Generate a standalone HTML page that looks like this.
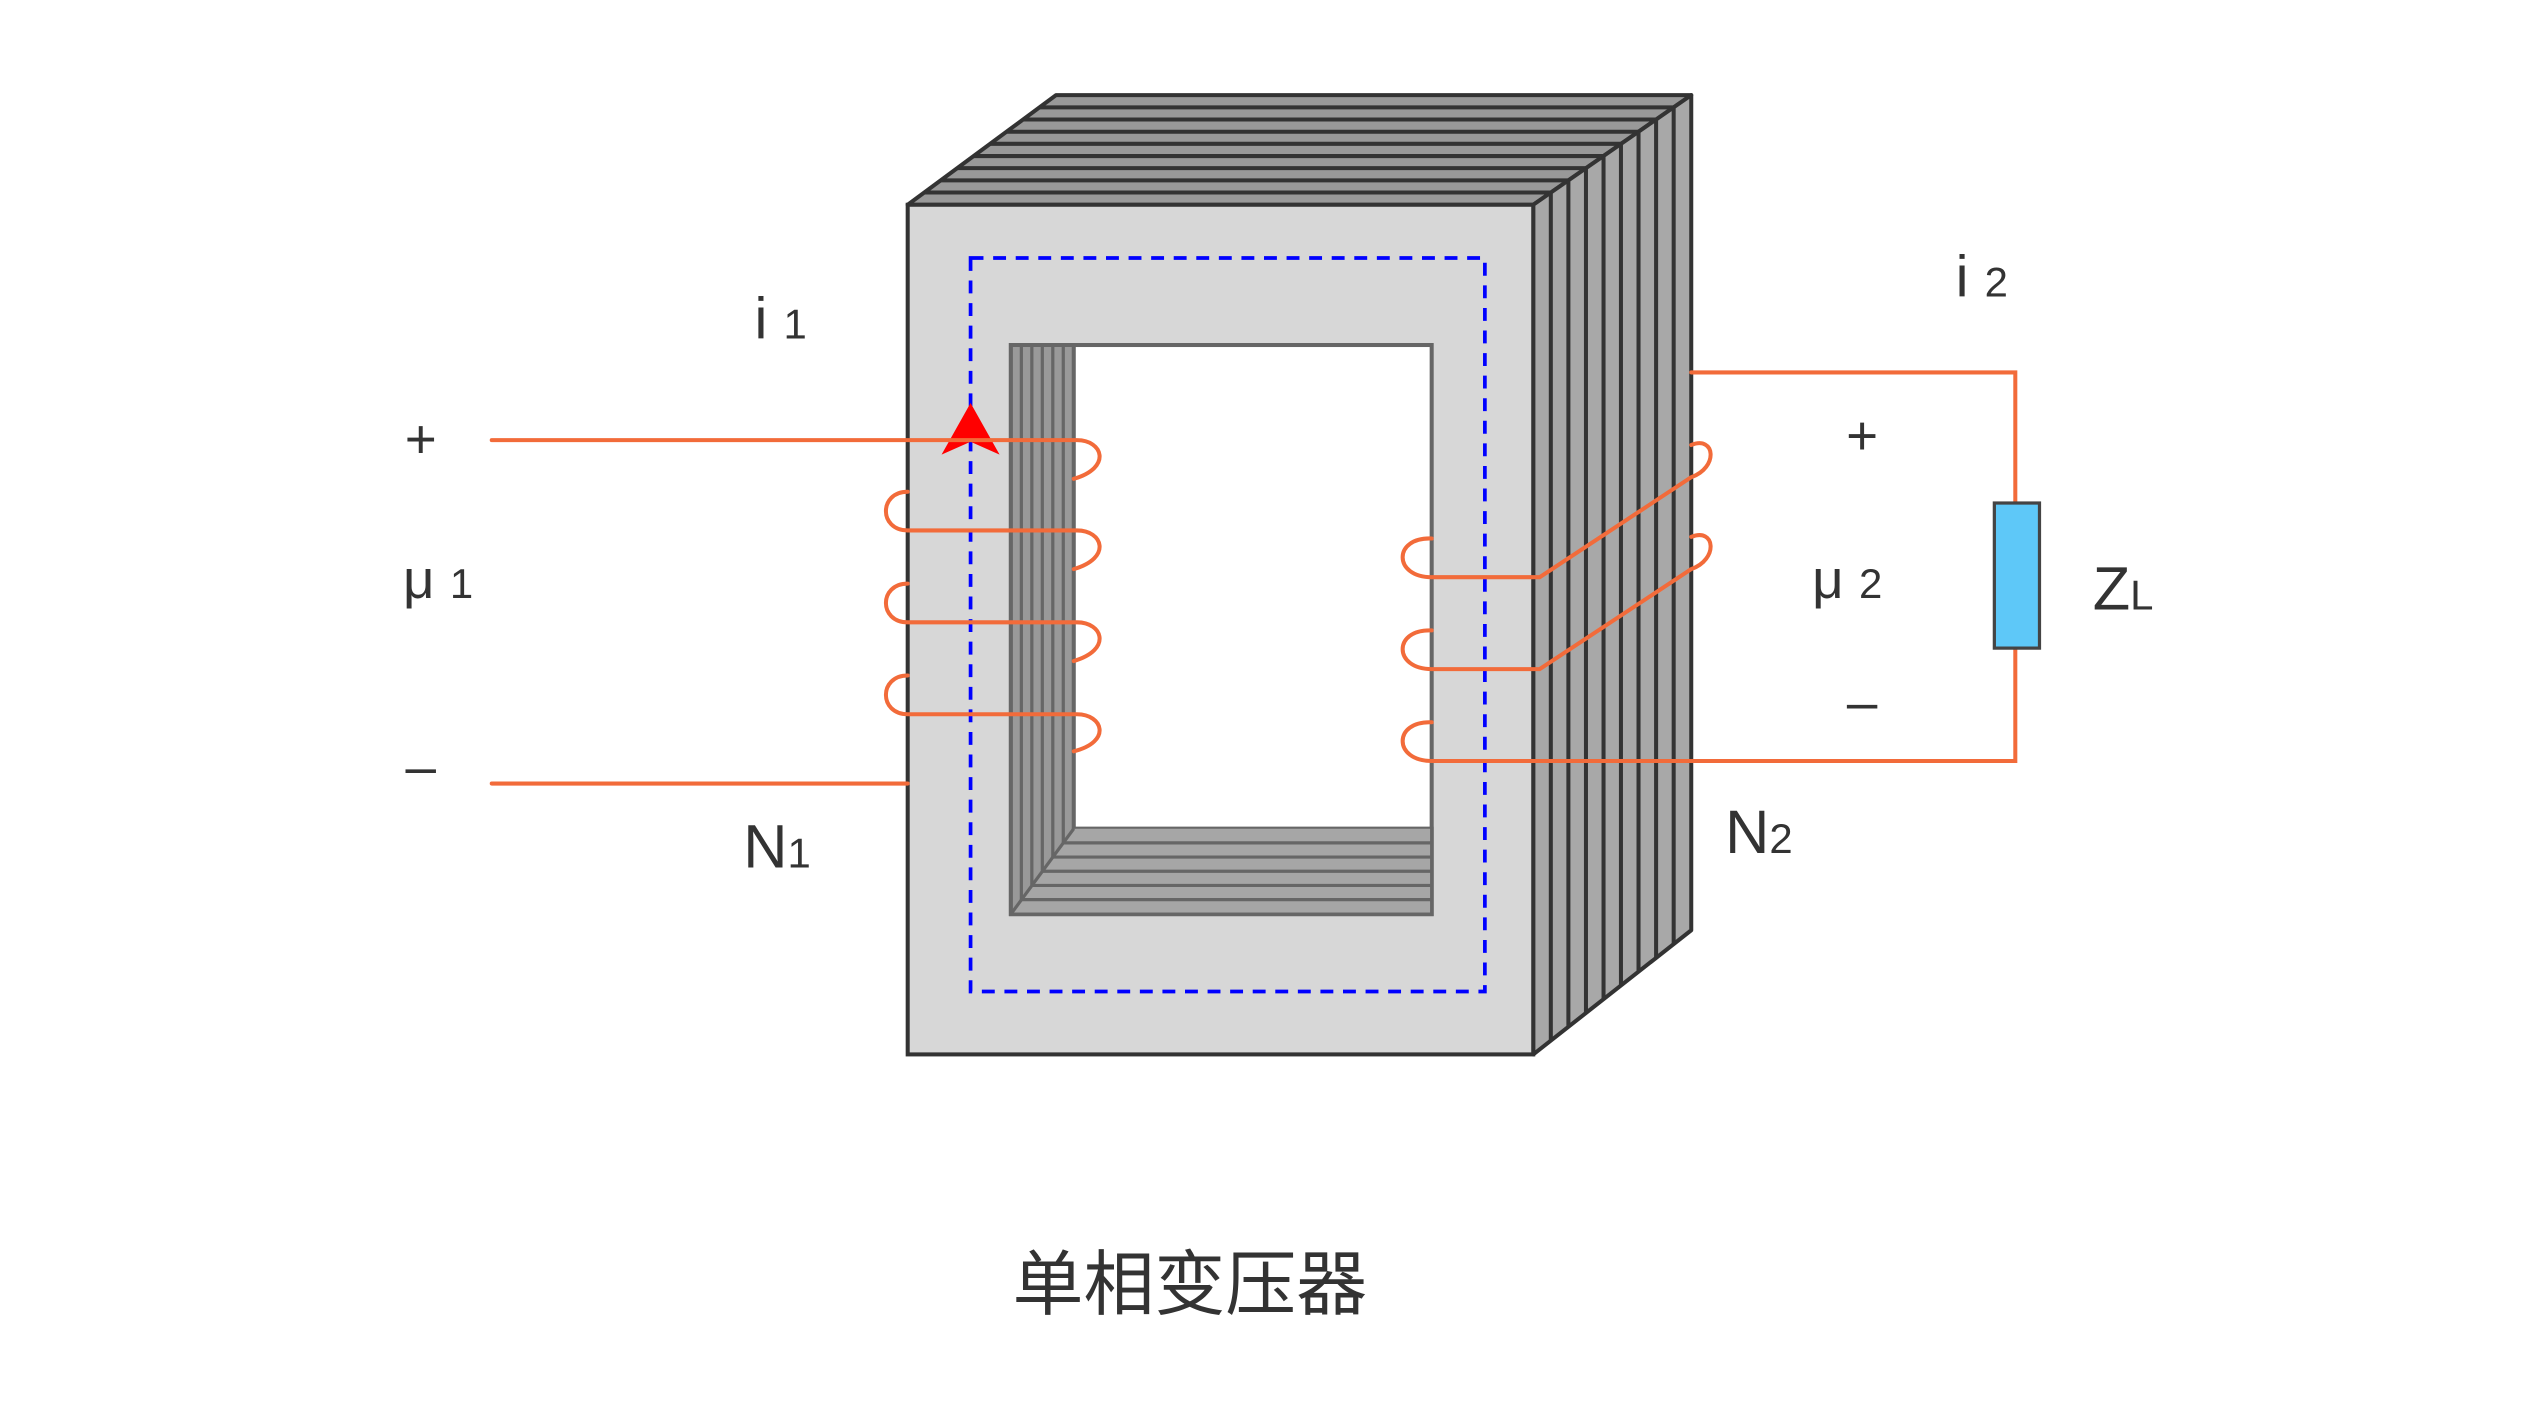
<!DOCTYPE html>
<html><head><meta charset="utf-8"><style>html,body{margin:0;padding:0;background:#fff}svg{display:block}</style></head>
<body>
<svg width="2528" height="1422" viewBox="0 0 1568 882" xmlns="http://www.w3.org/2000/svg">
<rect width="1568" height="882" fill="#fff"/>
<!-- top face -->
<polygon points="563,127 655,59 1049,59 951,127" fill="#999" stroke="#333" stroke-width="2.5" stroke-linejoin="round"/>
<!-- right face -->
<polygon points="951,127 1049,59 1049,577 951,654" fill="#a8a8a8" stroke="#333" stroke-width="2.5" stroke-linejoin="round"/>
<g stroke="#333" stroke-width="2.5" fill="none">
<line x1="573.2" y1="119.4" x2="961.9" y2="119.4"/>
<line x1="583.4" y1="111.9" x2="972.8" y2="111.9"/>
<line x1="593.7" y1="104.3" x2="983.7" y2="104.3"/>
<line x1="603.9" y1="96.8" x2="994.6" y2="96.8"/>
<line x1="614.1" y1="89.2" x2="1005.4" y2="89.2"/>
<line x1="624.3" y1="81.7" x2="1016.3" y2="81.7"/>
<line x1="634.6" y1="74.1" x2="1027.2" y2="74.1"/>
<line x1="644.8" y1="66.6" x2="1038.1" y2="66.6"/>
<line x1="961.9" y1="119.4" x2="961.9" y2="645.4"/>
<line x1="972.8" y1="111.9" x2="972.8" y2="636.9"/>
<line x1="983.7" y1="104.3" x2="983.7" y2="628.3"/>
<line x1="994.6" y1="96.8" x2="994.6" y2="619.8"/>
<line x1="1005.4" y1="89.2" x2="1005.4" y2="611.2"/>
<line x1="1016.3" y1="81.7" x2="1016.3" y2="602.7"/>
<line x1="1027.2" y1="74.1" x2="1027.2" y2="594.1"/>
<line x1="1038.1" y1="66.6" x2="1038.1" y2="585.6"/>
</g>
<!-- front face -->
<rect x="563" y="127" width="388" height="527" fill="#d7d7d7" stroke="#333" stroke-width="2.5"/>
<!-- window -->
<rect x="627" y="214" width="261" height="353" fill="#fff" stroke="#666" stroke-width="2.5"/>
<polygon points="627,214 666,214 666,514 888,514 888,567 627,567" fill="#999" stroke="#666" stroke-width="2.5"/>
<polygon points="666,514 888,514 888,567 627,567" fill="#a6a6a6"/>
<g stroke="#666" stroke-width="2" fill="none">
<line x1="633.5" y1="214" x2="633.5" y2="558"/>
<line x1="640" y1="214" x2="640" y2="549"/>
<line x1="646.5" y1="214" x2="646.5" y2="540"/>
<line x1="653" y1="214" x2="653" y2="532"/>
<line x1="659.5" y1="214" x2="659.5" y2="523"/>
<line x1="666" y1="214" x2="666" y2="514"/>
<line x1="666" y1="514" x2="627" y2="567"/>
<line x1="659.5" y1="522.8" x2="888" y2="522.8"/>
<line x1="653" y1="531.6" x2="888" y2="531.6"/>
<line x1="646.5" y1="540.4" x2="888" y2="540.4"/>
<line x1="640" y1="549.2" x2="888" y2="549.2"/>
<line x1="633.5" y1="558" x2="888" y2="558"/>
<rect x="627" y="214" width="261" height="353"/>
</g>
<!-- flux path -->
<rect x="602" y="160" width="319" height="455" fill="none" stroke="#00f" stroke-width="2.3" stroke-dasharray="8,6"/>
<polygon points="602,250 620,282 602,274 584,282" fill="#f00"/>
<!-- primary coil -->
<g stroke="#f26b3a" stroke-width="2.5" fill="none" stroke-linecap="round">
<path d="M305,273 H668 C684,273 690,290 666,297"/>
<path d="M563,305 C545,305 545,329 563,329 H668 C684,329 690,346 666,353"/>
<path d="M563,362 C545,362 545,386 563,386 H668 C684,386 690,403 666,410"/>
<path d="M563,419 C545,419 545,443 563,443 H668 C684,443 690,460 666,466"/>
<path d="M305,486 H563"/>
<!-- secondary -->
<path d="M888,334 C864,333 864,358 888,358 H955 L1049,296 C1066,290 1064,270 1049,276"/>
<path d="M888,391 C864,390 864,415 888,415 H955 L1049,353 C1066,347 1064,327 1049,333"/>
<path d="M888,448 C864,447 864,472 888,472 H1250 V402"/>
<path d="M1049,231 H1250 V312"/>
</g>
<rect x="1237" y="312" width="28" height="90" fill="#5ec8f8" stroke="#444" stroke-width="2"/>
<g font-family="Liberation Sans, sans-serif" fill="#333">
<text x="261" y="284" font-size="34" text-anchor="middle">+</text>
<text x="261" y="487" font-size="34" text-anchor="middle">–</text>
<text x="250" y="371" font-size="34">μ <tspan font-size="26">1</tspan></text>
<text x="468" y="210" font-size="36">i <tspan font-size="26">1</tspan></text>
<text x="461" y="538" font-size="38">N<tspan font-size="26">1</tspan></text>
<text x="1213" y="184" font-size="36">i <tspan font-size="26">2</tspan></text>
<text x="1155" y="282" font-size="34" text-anchor="middle">+</text>
<text x="1155" y="447" font-size="34" text-anchor="middle">–</text>
<text x="1124" y="371" font-size="34">μ <tspan font-size="26">2</tspan></text>
<text x="1298" y="378" font-size="38">Z<tspan font-size="26">L</tspan></text>
<text x="1070" y="529" font-size="38">N<tspan font-size="26">2</tspan></text>
<text x="738" y="812" font-size="44" text-anchor="middle" font-family="Liberation Sans, Noto Sans CJK SC, sans-serif">单相变压器</text>
</g>
</svg>
</body></html>
